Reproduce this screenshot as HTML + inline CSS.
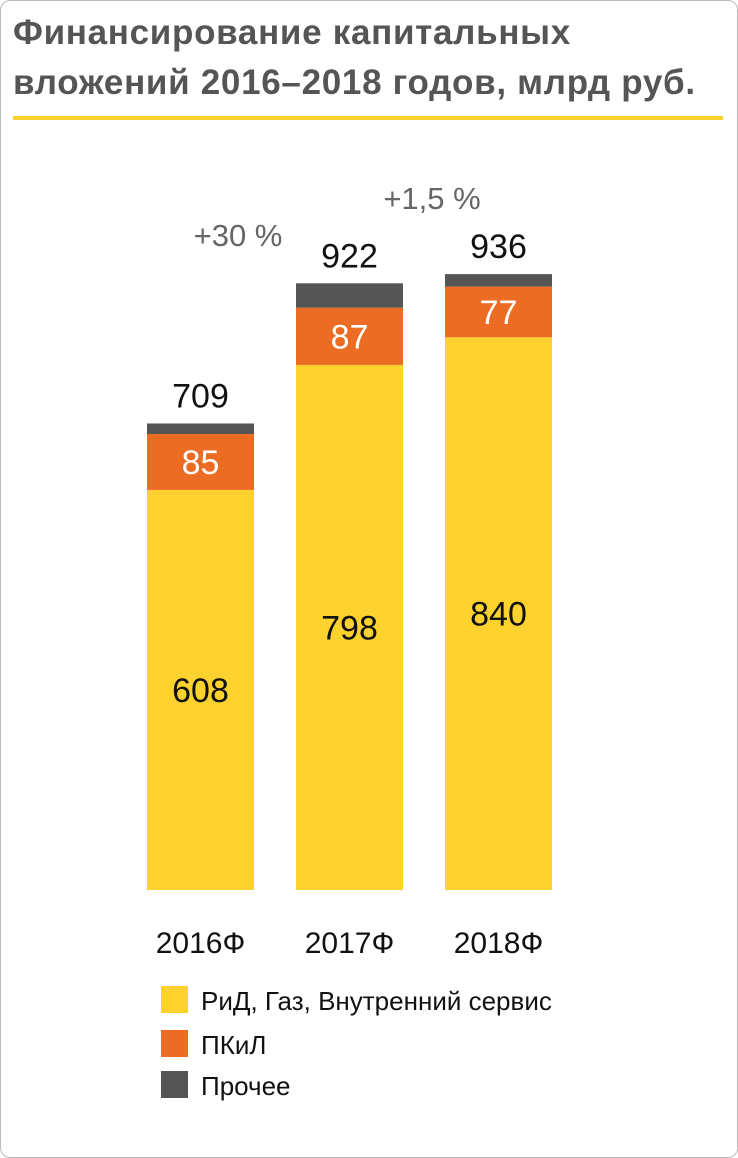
<!DOCTYPE html>
<html><head><meta charset="utf-8"><style>
html,body{margin:0;padding:0;background:#fff;}
#wrap{position:relative;width:736px;height:1156px;border:1px solid #bbb;border-radius:10px;overflow:hidden;font-family:"Liberation Sans",sans-serif;}
#title{position:absolute;left:12px;top:7px;font-family:"Liberation Sans",sans-serif;font-weight:bold;font-size:35px;line-height:50px;color:#555;letter-spacing:0.7px;white-space:nowrap;}
#rule{position:absolute;left:12px;top:115px;width:710px;height:4px;background:#fdd22f;}
svg{position:absolute;left:0;top:0;}
</style></head><body>
<div id="wrap">
<div id="title">Финансирование капитальных<br>вложений 2016–2018 годов, млрд руб.</div>
<div id="rule"></div>
<svg id="chart" width="738" height="1158"></svg>
</div>
<script>
const categories=["2016Ф","2017Ф","2018Ф"];
const mainVals=[608,798,840];
const pkilVals=[85,87,77];
const otherVals=[16,37,19];
const totals=[709,922,936];
const growthLabels=["+30 %","+1,5 %"];
const legendLabels=["РиД, Газ, Внутренний сервис","ПКиЛ","Прочее"];
const colors=["#fdd22f","#ec6c24","#555555"];
const NS="http://www.w3.org/2000/svg";
const svg=document.getElementById('chart');
const base=889,scale=0.658,barW=107;
const x=i=>146+i*149;
const y=v=>base-v*scale;
function mk(t,a,txt){const e=document.createElementNS(NS,t);for(const k in a)e.setAttribute(k,a[k]);if(txt!==undefined)e.textContent=txt;svg.appendChild(e);return e;}
const font='"Liberation Sans",sans-serif';
categories.forEach((c,i)=>{
  const segs=[mainVals[i],pkilVals[i],otherVals[i]];let acc=0;
  segs.forEach((v,j)=>{
    const r=mk('rect',{x:x(i),y:y(acc+v),width:barW,height:v*scale,fill:colors[j]});
    
    
    if(j<2){
      const t=mk('text',{x:x(i)+barW/2,y:y(acc+v/2)+12,'text-anchor':'middle','font-size':34,'font-family':font,fill:j==1?'#fff':'#111'},segs[j]);
      
      
    }
    acc+=v;
  });
  const tt=mk('text',{x:x(i)+barW/2,y:y(totals[i])-16,'text-anchor':'middle','font-size':34,'font-family':font,fill:'#111'},totals[i]);
  
  
  const cl=mk('text',{x:x(i)+barW/2,y:952,'text-anchor':'middle','font-size':30,'font-family':font,fill:'#111'},c);
  
  
});
const g1=mk('text',{x:237,y:245,'text-anchor':'middle','font-size':31,'font-family':font,fill:'#666'},growthLabels[0]);


const g2=mk('text',{x:431,y:208,'text-anchor':'middle','font-size':31,'font-family':font,fill:'#666'},growthLabels[1]);


const ly=[985,1029,1070];
legendLabels.forEach((l,i)=>{
  const r=mk('rect',{x:160,y:ly[i],width:27,height:27,fill:colors[i]});
  
  
  const t=mk('text',{x:200,y:ly[i]+24,'font-size':26,'font-family':font,fill:'#111'},l);
  
  
});
</script>
</body></html>
